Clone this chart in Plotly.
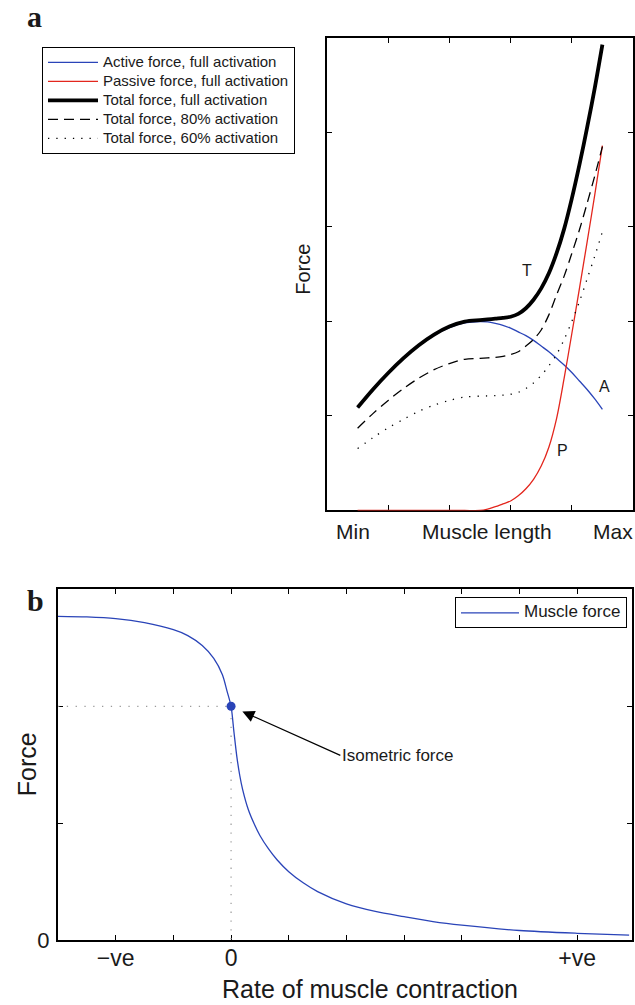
import plotly.graph_objects as go

W, H_REF = 635, 1005
H = 1017  # figure height; paper fractions below are based on the 1005-px reference

# ---------------- Panel a: force-length ----------------
muscle_length = [0.5, 0.75, 1.0, 1.25, 1.5, 1.75, 2.0, 2.25, 2.5, 2.625,
                 2.75, 2.875, 3.0, 3.125, 3.25, 3.375, 3.5, 3.625, 3.75,
                 3.875, 4.0, 4.125, 4.25, 4.375, 4.5]
active_full = [1.09, 1.28, 1.455, 1.61, 1.745, 1.855, 1.935, 1.985, 2.00, 1.995,
               1.98, 1.96, 1.93, 1.89, 1.85, 1.80, 1.74, 1.68, 1.61,
               1.54, 1.46, 1.37, 1.28, 1.18, 1.07]
passive_full = [0.0, 0.0, 0.0, 0.0, 0.0, 0.0, 0.0, 0.0, 0.0, 0.015,
                0.04, 0.07, 0.10, 0.155, 0.23, 0.33, 0.47, 0.67, 0.97,
                1.40, 1.87, 2.35, 2.84, 3.34, 3.86]
total_full = [1.09, 1.281, 1.455, 1.612, 1.749, 1.862, 1.947, 1.999, 2.015, 2.022,
              2.03, 2.037, 2.05, 2.08, 2.14, 2.23, 2.35, 2.51, 2.72,
              2.98, 3.30, 3.66, 4.05, 4.47, 4.93]
total_80 = [0.87, 1.025, 1.165, 1.29, 1.40, 1.49, 1.555, 1.60, 1.61, 1.615,
            1.62, 1.63, 1.65, 1.68, 1.74, 1.81, 1.91, 2.07, 2.28,
            2.48, 2.72, 2.97, 3.25, 3.54, 3.85]
total_60 = [0.655, 0.77, 0.875, 0.965, 1.05, 1.115, 1.165, 1.20, 1.21, 1.212,
            1.215, 1.22, 1.23, 1.25, 1.29, 1.35, 1.43, 1.53, 1.65,
            1.81, 2.00, 2.21, 2.45, 2.69, 2.95]
a_names = ["Active force, full activation", "Passive force, full activation",
           "Total force, full activation", "Total force, 80% activation",
           "Total force, 60% activation"]
a_xtick_text = ["Min", "Muscle length", "Max"]
a_xtick_pos = [0.42, 2.61, 4.67]
a_curve_labels = ["T", "A", "P"]
a_curve_label_x = [3.27, 4.53, 3.84]
a_curve_label_y = [2.54, 1.31, 0.63]

# ---------------- Panel b: force-velocity ----------------
contraction_rate = [-3.0, -2.5, -2.0, -1.5, -1.0, -0.75, -0.5, -0.3, -0.15, -0.07,
                    0.0, 0.05, 0.1, 0.15, 0.2, 0.3, 0.4, 0.5, 0.65, 0.8, 1.0,
                    1.25, 1.5, 2.0, 2.5, 3.0, 3.5, 4.0, 5.0, 6.0, 6.9]
muscle_force = [2.77, 2.765, 2.75, 2.715, 2.655, 2.605, 2.52, 2.41, 2.27, 2.13,
                2.0, 1.78, 1.57, 1.41, 1.29, 1.115, 0.995, 0.895, 0.78, 0.685, 0.585,
                0.49, 0.415, 0.31, 0.245, 0.20, 0.158, 0.127, 0.082, 0.058, 0.043]
iso_rate = [0.0]
iso_force = [2.0]
b_xtick_vals = [-2, -1, 0, 1, 2, 3, 4, 5, 6]
b_xtick_text = ["\u2212ve", "", "0", "", "", "", "", "", "+ve"]
b_ytick_vals = [0, 1, 2]
b_ytick_text = ["0", "", ""]

FONT = "Liberation Sans, Arial, sans-serif"
SERIF = "Liberation Serif, Times New Roman, serif"
TXT = "#1a1a1a"
BLUE = "#2a44b8"
RED = "#e3261d"


def py(p):
    """reference pixel row -> paper fraction"""
    return 1 - p / H_REF


def leg_name(s, size):
    return '<span style="font-size:%dpx">%s</span>' % (size, s)


fig = go.Figure()

a_styles = [dict(color=BLUE, width=1.3),
            dict(color=RED, width=1.3),
            dict(color="black", width=3.8),
            dict(color="black", width=1.3, dash="10px,6px"),
            dict(color="black", width=1.3, dash="1.3px,7px")]
a_series = [active_full, passive_full, total_full, total_80, total_60]
for name, ys, st in zip(a_names, a_series, a_styles):
    fig.add_trace(go.Scatter(x=muscle_length, y=ys, name=leg_name(name, 15), mode="lines",
                             line=dict(shape="spline", smoothing=0.9, **st),
                             xaxis="x", yaxis="y", legend="legend"))

# panel b traces
guide_x = [contraction_rate[0], iso_rate[0], iso_rate[0]]
guide_y = [iso_force[0], iso_force[0], 0]
fig.add_trace(go.Scatter(x=guide_x, y=guide_y, mode="lines", showlegend=False,
                         line=dict(color="#9a9a9a", width=1.2, dash="1.3px,7.5px"),
                         xaxis="x2", yaxis="y2", hoverinfo="skip"))
fig.add_trace(go.Scatter(x=contraction_rate, y=muscle_force, name=leg_name("Muscle force", 17),
                         mode="lines",
                         line=dict(color=BLUE, width=1.3, shape="spline", smoothing=0.8),
                         xaxis="x2", yaxis="y2", legend="legend2"))
fig.add_trace(go.Scatter(x=iso_rate, y=iso_force, mode="markers", showlegend=False,
                         marker=dict(color=BLUE, size=9),
                         xaxis="x2", yaxis="y2"))

axis_common = dict(showline=True, linecolor="black", linewidth=2, mirror="ticks",
                   ticks="inside", ticklen=5, tickwidth=1, tickcolor="black",
                   showgrid=False, zeroline=False, layer="below traces")

fig.update_layout(
    width=W, height=H,
    margin=dict(l=0, r=0, t=0, b=0),
    paper_bgcolor="white", plot_bgcolor="white",
    font=dict(family=FONT, color=TXT),
    xaxis=dict(domain=[327 / W, 633 / W], range=[0, 5], anchor="y",
               tickvals=[1, 2, 3, 4], showticklabels=False, **axis_common),
    yaxis=dict(domain=[py(511), py(38)], range=[0, 5], anchor="x",
               tickvals=[1, 2, 3, 4], showticklabels=False, **axis_common),
    xaxis2=dict(domain=[58 / W, 632 / W], range=[-3, 6.95], anchor="y2",
                tickvals=b_xtick_vals, ticktext=b_xtick_text, ticklabelstandoff=-4,
                tickfont=dict(size=23, color=TXT), **axis_common),
    yaxis2=dict(domain=[py(941), py(590)], range=[0, 3], anchor="x2",
                tickvals=b_ytick_vals, ticktext=b_ytick_text, ticklabelstandoff=2,
                tickfont=dict(size=22, color=TXT), **axis_common),
    legend=dict(x=42 / W, y=py(47), xanchor="left", yanchor="top",
                bordercolor="black", borderwidth=1, bgcolor="white",
                font=dict(size=11.8, color=TXT), tracegroupgap=0, itemwidth=50),
    legend2=dict(x=627 / W, y=py(598), xanchor="right", yanchor="top",
                 bordercolor="black", borderwidth=1, bgcolor="white",
                 font=dict(size=11, color=TXT), itemwidth=58),
    showlegend=True,
)

ann = []


def add_text(text, x, y, size, xref="paper", yref="paper", angle=0, family=FONT):
    ann.append(dict(text=text, x=x, y=y, xref=xref, yref=yref, xanchor="center",
                    yanchor="middle", textangle=angle, showarrow=False,
                    font=dict(family=family, size=size, color=TXT)))


add_text("<b>a</b>", 34 / W, py(17), 30, family=SERIF)
add_text("<b>b</b>", 35 / W, py(601), 30, family=SERIF)
add_text("Force", 303 / W, py(270), 20, angle=-90)
for t, xp in zip(a_xtick_text, a_xtick_pos):
    add_text(t, xp, py(532), 21, xref="x")
for t, xp, yp in zip(a_curve_labels, a_curve_label_x, a_curve_label_y):
    add_text(t, xp, yp, 16, xref="x", yref="y")
add_text("Force", 27 / W, py(765), 25, angle=-90)
add_text("Rate of muscle contraction", 370 / W, py(990), 25)
ann.append(dict(text="Isometric force", x=0.196, y=1.956, xref="x2", yref="y2",
                ax=1.894, ay=1.58, axref="x2", ayref="y2", xanchor="left", yanchor="middle",
                showarrow=True, arrowhead=2, arrowsize=2.0, arrowwidth=1.2, arrowcolor="black",
                standoff=0, font=dict(size=17, color=TXT)))
fig.update_layout(annotations=ann)

fig.write_html("out.html", config={"displayModeBar": False},
               post_script="document.body.style.margin='0px';")
